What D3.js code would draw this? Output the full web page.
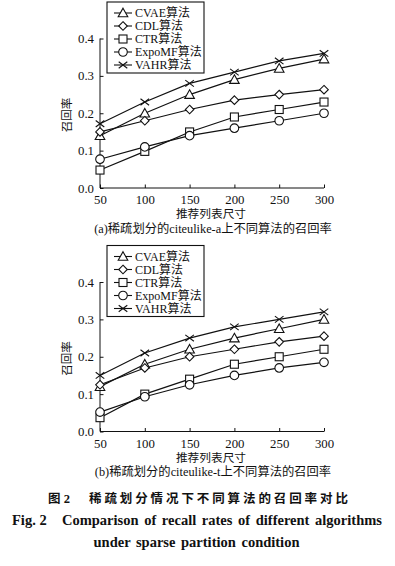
<!DOCTYPE html>
<html>
<head>
<meta charset="utf-8">
<script src="https://cdn.jsdelivr.net/npm/d3@7"></script>
<style>
  body { margin: 0; background: #fff; }
  svg { display: block; }
  text { font-family: "Liberation Serif", "Noto Sans CJK SC", serif; fill: #111; }
</style>
</head>
<body>
<svg id="chart" width="395" height="566"></svg>
<script>
const sizes = [50, 100, 150, 200, 250, 300];
const algos = ["CVAE算法", "CDL算法", "CTR算法", "ExpoMF算法", "VAHR算法"];
const markers = ["triangle", "diamond", "square", "circle", "cross"];
const yTicks = [0.0, 0.1, 0.2, 0.3, 0.4];

// (a) citeulike-a
const cvaeA = [0.14, 0.20, 0.25, 0.29, 0.32, 0.345];
const cdlA = [0.15, 0.18, 0.21, 0.235, 0.25, 0.263];
const ctrA = [0.048, 0.098, 0.15, 0.19, 0.21, 0.23];
const expoA = [0.077, 0.11, 0.14, 0.16, 0.18, 0.20];
const vahrA = [0.172, 0.23, 0.28, 0.31, 0.34, 0.36];

// (b) citeulike-t
const cvaeB = [0.12, 0.18, 0.22, 0.25, 0.275, 0.30];
const cdlB = [0.125, 0.17, 0.20, 0.22, 0.24, 0.255];
const ctrB = [0.037, 0.10, 0.14, 0.18, 0.20, 0.22];
const expoB = [0.052, 0.093, 0.125, 0.15, 0.17, 0.185];
const vahrB = [0.15, 0.21, 0.25, 0.28, 0.30, 0.32];

const svg = d3.select("#chart");

const x = d3.scaleLinear().domain([50, 300]).range([100, 324]);

function drawMarker(g, type, cx, cy) {
  const s = 4.3;
  const m = g.append("g").attr("transform", `translate(${cx},${cy})`)
    .attr("fill", "#fff").attr("stroke", "#111").attr("stroke-width", 1.1);
  if (type === "triangle") {
    m.append("path").attr("d", `M0,${-s - 0.5}L${s + 0.5},${s - 0.5}L${-s - 0.5},${s - 0.5}Z`);
  } else if (type === "diamond") {
    m.append("path").attr("d", `M0,${-s}L${s},0L0,${s}L${-s},0Z`);
  } else if (type === "square") {
    m.append("rect").attr("x", -s + 0.3).attr("y", -s + 0.3)
      .attr("width", 2 * s - 0.6).attr("height", 2 * s - 0.6);
  } else if (type === "circle") {
    m.append("circle").attr("r", s);
  } else {
    m.append("path").attr("fill", "none")
      .attr("d", `M${-s},${-s * 0.75}L${s},${s * 0.75}M${-s},${s * 0.75}L${s},${-s * 0.75}`);
  }
}

function panel(top, series, caption) {
  const g = svg.append("g").attr("transform", `translate(0,${top})`);
  const y = d3.scaleLinear().domain([0, 0.4]).range([188, 38.5]);

  const yAxis = d3.axisLeft(y).tickValues(yTicks).tickSize(-3.5)
    .tickPadding(6).tickFormat(d3.format(".1f"));
  const gy = g.append("g").attr("transform", "translate(100,0)").call(yAxis);

  const xAxis = d3.axisBottom(x).tickValues(sizes).tickSize(-3.5).tickPadding(7);
  const gx = g.append("g").attr("transform", "translate(0,188)").call(xAxis);

  [gx, gy].forEach((a) => {
    a.select(".domain").attr("stroke", "#111");
    a.selectAll(".tick line").attr("stroke", "#111");
    a.selectAll(".tick text").attr("font-size", 12.8).attr("fill", "#111")
      .attr("font-family", "Liberation Serif, serif");
  });
  gy.select(".domain").attr("d", "M0,188V38.5");
  gx.select(".domain").attr("d", "M100,0H324");

  const line = d3.line().x((d, i) => x(sizes[i])).y((d) => y(d));

  series.forEach((vals) => {
    g.append("path").datum(vals).attr("d", line)
      .attr("fill", "none").attr("stroke", "#111").attr("stroke-width", 1.2);
  });
  series.forEach((vals, k) => {
    vals.forEach((v, i) => drawMarker(g, markers[k], x(sizes[i]), y(v)));
  });

  // y label
  g.append("text").attr("transform", "translate(71,115) rotate(-90)")
    .attr("text-anchor", "middle").attr("font-size", 11.5).text("召回率");

  // x label
  g.append("text").attr("x", 211).attr("y", 218).attr("text-anchor", "middle")
    .attr("font-size", 11.7).text("推荐列表尺寸");

  g.append("text").attr("x", 213).attr("y", 232.5).attr("text-anchor", "middle")
    .attr("font-size", 12.3).text(caption);

  // legend
  const lg = g.append("g");
  lg.append("rect").attr("x", 107).attr("y", 2).attr("width", 97).attr("height", 71)
    .attr("fill", "#fff").attr("stroke", "#111").attr("stroke-width", 1.1);
  algos.forEach((name, k) => {
    const cy = 13 + k * 13;
    lg.append("line").attr("x1", 114).attr("x2", 132).attr("y1", cy).attr("y2", cy)
      .attr("stroke", "#111").attr("stroke-width", 1.1);
    drawMarker(lg, markers[k], 123, cy);
    lg.append("text").attr("x", 135).attr("y", cy + 4.3).attr("font-size", 12).text(name);
  });
}

panel(0, [cvaeA, cdlA, ctrA, expoA, vahrA], "(a)稀疏划分的citeulike-a上不同算法的召回率");
panel(243.5, [cvaeB, cdlB, ctrB, expoB, vahrB], "(b)稀疏划分的citeulike-t上不同算法的召回率");

const cn = svg.append("text").attr("y", 503).attr("font-size", 12.5).attr("font-weight", "bold");
cn.append("tspan").attr("x", 48).text("图 2");
cn.append("tspan").attr("x", 89).attr("letter-spacing", 2.9).text("稀疏划分情况下不同算法的召回率对比");

const en = svg.append("text").attr("y", 525).attr("font-size", 14.5).attr("font-weight", "bold");
en.append("tspan").attr("x", 12).text("Fig. 2");
en.append("tspan").attr("x", 62).attr("word-spacing", 2).text("Comparison of recall rates of different algorithms");

svg.append("text").attr("x", 196.5).attr("y", 547).attr("text-anchor", "middle")
  .attr("font-size", 14.5).attr("font-weight", "bold").attr("word-spacing", 2)
  .text("under sparse partition condition");
</script>
</body>
</html>
